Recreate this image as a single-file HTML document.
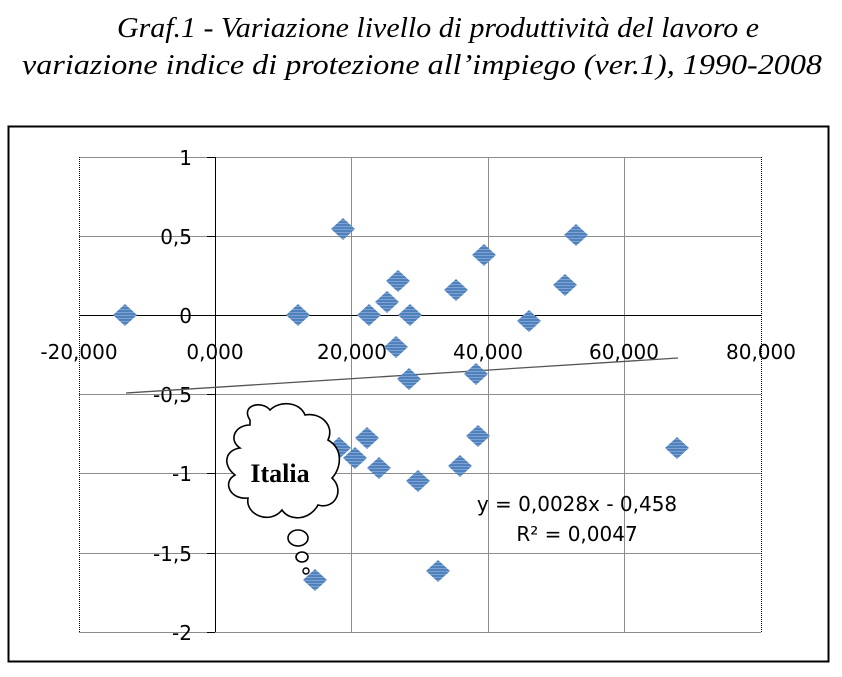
<!DOCTYPE html>
<html><head><meta charset="utf-8"><style>
html,body{margin:0;padding:0;background:#fff;}
svg{display:block;}
</style></head><body>
<svg width="842" height="677" xmlns="http://www.w3.org/2000/svg">
<defs>
<pattern id="st" width="4" height="3" patternUnits="userSpaceOnUse">
<rect width="4" height="3" fill="#4f81bd"/><rect width="4" height="1" fill="#7ea3d3"/>
</pattern>
<g id="d"><polygon points="0,-11 12,0 0,11 -12,0" fill="url(#st)"/></g>
</defs>
<g font-family="'Liberation Serif','Times New Roman',serif" font-style="italic" font-size="28" fill="#000">
<text x="438" y="37" text-anchor="middle" textLength="642" lengthAdjust="spacingAndGlyphs">Graf.1 - Variazione livello di produttività del lavoro e</text>
<text x="422" y="74" text-anchor="middle" textLength="800" lengthAdjust="spacingAndGlyphs">variazione indice di protezione all’impiego (ver.1), 1990-2008</text>
</g>
<rect x="8.5" y="126.5" width="820" height="535" fill="none" stroke="#000" stroke-width="2"/>
<g stroke="#8c8c8c" stroke-width="1">
<line x1="79" y1="157.5" x2="761" y2="157.5"/>
<line x1="79" y1="236.5" x2="761" y2="236.5"/>
<line x1="79" y1="394.5" x2="761" y2="394.5"/>
<line x1="79" y1="473.5" x2="761" y2="473.5"/>
<line x1="79" y1="553.5" x2="761" y2="553.5"/>
<line x1="79" y1="632.5" x2="761" y2="632.5"/>
<line x1="351.5" y1="157" x2="351.5" y2="632"/>
<line x1="488.5" y1="157" x2="488.5" y2="632"/>
<line x1="624.5" y1="157" x2="624.5" y2="632"/>
</g>
<line x1="79.5" y1="157" x2="79.5" y2="632" stroke="#000" stroke-dasharray="1,1"/>
<line x1="761.5" y1="157" x2="761.5" y2="632" stroke="#000" stroke-dasharray="1,1"/>
<line x1="215.5" y1="157" x2="215.5" y2="632" stroke="#000"/>
<line x1="79" y1="315.5" x2="761" y2="315.5" stroke="#000"/>
<g stroke="#000"><line x1="207" y1="157.5" x2="215" y2="157.5"/><line x1="207" y1="236.5" x2="215" y2="236.5"/><line x1="207" y1="394.5" x2="215" y2="394.5"/><line x1="207" y1="473.5" x2="215" y2="473.5"/><line x1="207" y1="553.5" x2="215" y2="553.5"/><line x1="207" y1="632.5" x2="215" y2="632.5"/></g>
<g font-family="'DejaVu Sans',sans-serif" font-size="20" fill="#000" text-anchor="end">
<text x="192" y="165">1</text><text x="192" y="244">0,5</text><text x="192" y="323">0</text>
<text x="192" y="402">-0,5</text><text x="192" y="481">-1</text><text x="192" y="561">-1,5</text><text x="192" y="640">-2</text>
</g>
<g font-family="'DejaVu Sans',sans-serif" font-size="20" fill="#000" text-anchor="middle">
<text x="79" y="359">-20,000</text><text x="215" y="359">0,000</text><text x="352" y="359">20,000</text>
<text x="488" y="359">40,000</text><text x="624" y="359">60,000</text><text x="761" y="359">80,000</text>
</g>
<line x1="126" y1="393" x2="678" y2="358" stroke="#555" stroke-width="1.3"/>
<g>
<use href="#d" x="125" y="315"/><use href="#d" x="343" y="229"/><use href="#d" x="298" y="315"/>
<use href="#d" x="369" y="315"/><use href="#d" x="387" y="302"/><use href="#d" x="398" y="281"/>
<use href="#d" x="410" y="315"/><use href="#d" x="396" y="347"/><use href="#d" x="409" y="379"/>
<use href="#d" x="456" y="290"/><use href="#d" x="484" y="255"/><use href="#d" x="476" y="374"/>
<use href="#d" x="529" y="321"/><use href="#d" x="565" y="285"/><use href="#d" x="576" y="235"/>
<use href="#d" x="478" y="436"/><use href="#d" x="460" y="466"/><use href="#d" x="418" y="481"/>
<use href="#d" x="438" y="571"/><use href="#d" x="315" y="580"/><use href="#d" x="339" y="448"/>
<use href="#d" x="355" y="458"/><use href="#d" x="367" y="438"/><use href="#d" x="379" y="468"/>
<use href="#d" x="677" y="448"/>
</g>
<g font-family="'DejaVu Sans',sans-serif" font-size="20" fill="#000" text-anchor="middle">
<text x="577" y="511">y = 0,0028x - 0,458</text>
<text x="577" y="541">R² = 0,0047</text>
</g>
<path d="M250,420 C240,405 262,400 270,410 C280,400 300,402 305,415 C320,412 335,425 328,440 C345,450 340,470 332,478 C345,490 335,510 318,505 C310,520 290,522 282,510 C270,525 245,515 248,498 C230,500 222,482 235,475 C222,465 225,450 240,448 C228,440 235,425 250,425 Z" fill="#fff" stroke="#000" stroke-width="1.6"/>
<ellipse cx="298" cy="538" rx="10" ry="8" fill="#fff" stroke="#000" stroke-width="1.6"/>
<ellipse cx="302" cy="557" rx="6" ry="5" fill="#fff" stroke="#000" stroke-width="1.6"/>
<ellipse cx="306" cy="571" rx="3" ry="3" fill="#fff" stroke="#000" stroke-width="1.4"/>
<text x="280" y="482" font-family="'Liberation Serif',serif" font-weight="bold" font-size="26" text-anchor="middle">Italia</text>
</svg>
</body></html>
